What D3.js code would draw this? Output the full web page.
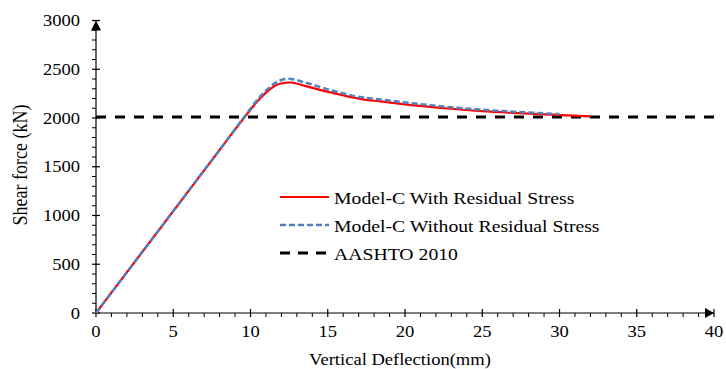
<!DOCTYPE html>
<html><head><meta charset="utf-8">
<script src="https://cdn.jsdelivr.net/npm/d3@7"></script>
<style>body{margin:0;background:#fff}svg{display:block}</style>
</head><body>
<script>
const withX = [0, 2, 4, 6, 8, 9.5, 10.6, 11.3, 11.9, 12.6, 13.5, 15.2, 17.1, 18.4, 20, 23, 25, 27, 29.4, 32];
const withY = [0, 418, 836, 1254, 1672, 1985, 2197, 2300, 2351, 2364, 2330, 2262, 2197, 2170, 2140, 2095, 2070, 2052, 2034, 2016];
const withoutX = [0, 2, 4, 6, 8, 9.5, 10.6, 11.3, 11.9, 12.5, 13.4, 15.2, 17.1, 18.4, 20, 23, 25, 27, 30];
const withoutY = [0, 418, 836, 1254, 1672, 1990, 2215, 2325, 2385, 2402, 2370, 2285, 2215, 2190, 2160, 2110, 2085, 2065, 2040];
const aashtoX = [0, 40];
const aashtoY = [2010, 2010];
const xTicks = [0, 5, 10, 15, 20, 25, 30, 35, 40];
const yTicks = [0, 500, 1000, 1500, 2000, 2500, 3000];
const legendLabels = ["Model-C With Residual Stress", "Model-C Without Residual Stress", "AASHTO 2010"];

const FONT = "'Liberation Serif', 'DejaVu Serif', 'Times New Roman', serif";
const SX = 1.16;
const W = 726, H = 369;
const svg = d3.select("body").append("svg").attr("width", W).attr("height", H)
  .attr("font-family", FONT).style("font-family", FONT);
const x = d3.scaleLinear().domain([0, 40]).range([96, 714]);
const y = d3.scaleLinear().domain([0, 3000]).range([313, 20.5]);

const g = svg.append("g");
const xMinor = d3.range(0, 41, 1).filter(v => v % 5 !== 0);
g.selectAll(".xm").data(xMinor).enter().append("line")
  .attr("x1", d => x(d)).attr("x2", d => x(d)).attr("y1", y(0)).attr("y2", y(0) + 4)
  .attr("stroke", "#000").attr("stroke-width", 1);
const yMinor = d3.range(0, 3001, 100).filter(v => v % 500 !== 0);
g.selectAll(".ym").data(yMinor).enter().append("line")
  .attr("x1", x(0) - 4).attr("x2", x(0)).attr("y1", d => y(d)).attr("y2", d => y(d))
  .attr("stroke", "#000").attr("stroke-width", 1);
g.selectAll(".xM").data(xTicks).enter().append("line")
  .attr("x1", d => x(d)).attr("x2", d => x(d)).attr("y1", y(0) - 4).attr("y2", y(0) + 4)
  .attr("stroke", "#000").attr("stroke-width", 1.2);
g.selectAll(".yM").data(yTicks).enter().append("line")
  .attr("x1", x(0) - 4).attr("x2", x(0) + 4).attr("y1", d => y(d)).attr("y2", d => y(d))
  .attr("stroke", "#000").attr("stroke-width", 1.2);
g.append("line").attr("x1", x(0)).attr("x2", x(40)).attr("y1", y(0)).attr("y2", y(0)).attr("stroke", "#000").attr("stroke-width", 1.2);
g.append("line").attr("x1", x(0)).attr("x2", x(0)).attr("y1", y(0)).attr("y2", y(3000)).attr("stroke", "#000").attr("stroke-width", 1.2);
g.append("path").attr("d", `M${x(40)-9},${y(0)-5} L${x(40)},${y(0)} L${x(40)-9},${y(0)+5} Z`).attr("fill", "#000");
g.append("path").attr("d", `M${x(0)-5},${y(3000)+10} L${x(0)},${y(3000)} L${x(0)+5},${y(3000)+10} Z`).attr("fill", "#000");

g.selectAll(".xl").data(xTicks).enter().append("text")
  .attr("transform", d => `translate(${x(d)},337) scale(${SX},1)`).attr("text-anchor", "middle").attr("font-size", 16).text(d => d);
g.selectAll(".yl").data(yTicks).enter().append("text")
  .attr("transform", d => `translate(80,${y(d) + 5.5}) scale(${SX},1)`).attr("text-anchor", "end").attr("font-size", 16).text(d => d);

svg.append("text").attr("transform", `translate(400,365) scale(${SX},1)`).attr("text-anchor", "middle").attr("font-size", 16).text("Vertical Deflection(mm)");
svg.append("text").attr("transform", `translate(27,165) rotate(-90) scale(1,${SX})`).attr("text-anchor", "middle").attr("font-size", 18).text("Shear  force (kN)");

const line = d3.line().x(d => x(d[0])).y(d => y(d[1])).curve(d3.curveMonotoneX);
svg.append("path").datum(aashtoX.map((v, i) => [v, aashtoY[i]])).attr("d", d3.line().x(d => x(d[0])).y(d => y(d[1])))
  .attr("fill", "none").attr("stroke", "#000").attr("stroke-width", 3).attr("stroke-dasharray", "10,9");
svg.append("path").datum(withX.map((v, i) => [v, withY[i]])).attr("d", line)
  .attr("fill", "none").attr("stroke", "#ff0000").attr("stroke-width", 2.2);
svg.append("path").datum(withoutX.map((v, i) => [v, withoutY[i]])).attr("d", line)
  .attr("fill", "none").attr("stroke", "#4f81bd").attr("stroke-width", 2.5).attr("stroke-dasharray", "6,3");

const leg = svg.append("g");
const styles = [
  {c: "#ff0000", w: 2.2, da: null},
  {c: "#4f81bd", w: 2.5, da: "6,3"},
  {c: "#000", w: 3, da: "10,8"}
];
legendLabels.forEach((t, i) => {
  const yy = 197 + i * 28;
  leg.append("line").attr("x1", 280).attr("x2", 329).attr("y1", yy).attr("y2", yy)
    .attr("stroke", styles[i].c).attr("stroke-width", styles[i].w).attr("stroke-dasharray", styles[i].da);
  leg.append("text").attr("transform", `translate(334,${yy + 6.5}) scale(${SX},1)`).attr("font-size", 17).text(t);
});
</script>
</body></html>
